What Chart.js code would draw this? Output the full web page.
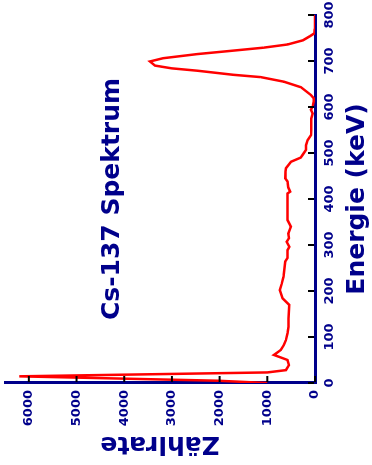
<!DOCTYPE html>
<html>
<head>
<meta charset="utf-8">
<script src="https://cdn.jsdelivr.net/npm/chart.js@4.4.1/dist/chart.umd.min.js"></script>
<style>
  html, body { margin: 0; padding: 0; background: #fff; overflow: hidden; }
  #wrap {
    position: absolute; left: 0; top: 0;
    width: 465px; height: 372px;
    transform-origin: 0 0;
    transform: translateY(465px) rotate(-90deg);
  }
</style>
</head>
<body>
<div id="wrap"><canvas id="spektrum" width="465" height="372"></canvas></div>
<script>
// Cs-137 Gammaspektrum
const energie = [0, 5, 14.5, 23, 28, 39, 50, 61, 72, 83, 93, 108, 122, 140, 160, 170, 184, 202, 215, 231,
  250, 264, 272, 289, 296, 307, 315, 325, 340, 354, 380, 400, 412, 416, 425, 438, 445, 460, 467, 481,
  490, 496, 507, 517, 528, 539, 550, 575, 586, 594, 601, 612, 619, 626, 643, 655, 665, 670, 679, 684,
  690, 699, 706, 715, 722, 729, 736, 745, 754, 760, 770, 800];
const zaehlrate = [1000, 2050, 6200, 1000, 610, 545, 575, 860, 715, 650, 610, 575, 555, 555, 545, 542, 680, 740, 700, 660,
  640, 625, 575, 575, 540, 595, 545, 560, 505, 575, 575, 575, 575, 520, 560, 575, 625, 620, 610, 505,
  300, 260, 190, 190, 155, 85, 80, 80, 50, 85, 50, 27, 27, 85, 295, 650, 1140, 1710, 2475, 3000,
  3355, 3460, 3190, 2470, 1770, 1075, 570, 253, 105, 15, 5, 0];

const xTicks = [0, 100, 200, 300, 400, 500, 600, 700, 800];
const yTicks = [0, 1000, 2000, 3000, 4000, 5000, 6000];

const titel = 'Cs-137 Spektrum';
const xTitel = 'Energie (keV)';
const yTitel = 'Zählrate';

const navy = '#00008b';
const fontFam = '"DejaVu Sans", sans-serif';

// kleine Striche nach innen + Titel im Diagramm
const innenStriche = {
  id: 'innenStriche',
  afterDraw(chart) {
    const { ctx, chartArea, scales } = chart;
    ctx.save();
    ctx.strokeStyle = '#000';
    ctx.lineWidth = 2;
    scales.x.ticks.forEach((t, i) => {
      const px = scales.x.getPixelForTick(i);
      ctx.beginPath();
      ctx.moveTo(px, chartArea.bottom - 1);
      ctx.lineTo(px, chartArea.bottom - 7);
      ctx.stroke();
    });
    scales.y.ticks.forEach((t, i) => {
      const py = scales.y.getPixelForTick(i);
      ctx.beginPath();
      ctx.moveTo(chartArea.left + 1, py);
      ctx.lineTo(chartArea.left + 7, py);
      ctx.stroke();
    });
    ctx.fillStyle = navy;
    ctx.font = 'bold 25px ' + fontFam;
    ctx.textAlign = 'center';
    ctx.textBaseline = 'alphabetic';
    ctx.fillText(titel, (chartArea.left + chartArea.right) / 2, chartArea.top + 114);
    ctx.restore();
  }
};

const tickFont = { family: fontFam, size: 13, weight: 'bold' };

const ctx = document.getElementById('spektrum').getContext('2d');
new Chart(ctx, {
  type: 'line',
  data: {
    datasets: [{
      data: energie.map((e, i) => ({ x: e, y: zaehlrate[i] })),
      borderColor: '#ff0000',
      borderWidth: 2.5,
      pointRadius: 0,
      tension: 0,
      fill: false
    }]
  },
  options: {
    responsive: false,
    animation: false,
    layout: { padding: { top: 5, right: 15, left: 0, bottom: 0 } },
    plugins: {
      legend: { display: false },
      tooltip: { enabled: false }
    },
    scales: {
      x: {
        type: 'linear',
        z: 1,
        min: 0,
        max: 800,
        afterBuildTicks(scale) { scale.ticks = xTicks.map(v => ({ value: v })); },
        afterFit(scale) {
          scale.height = 57;
          scale.paddingLeft = 0;
          scale.paddingRight = 0;
        },
        ticks: {
          color: navy,
          padding: 7,
          maxRotation: 0,
          autoSkip: false,
          font: tickFont,
          callback: v => String(v)
        },
        grid: { display: true, drawOnChartArea: false, drawTicks: false },
        border: { display: true, color: navy, width: 3 },
        title: {
          display: true,
          text: xTitel,
          color: navy,
          padding: { top: 0, bottom: 0 },
          font: { family: fontFam, size: 25, weight: 'bold' }
        }
      },
      y: {
        z: 1,
        min: 0,
        max: 6500,
        afterBuildTicks(scale) { scale.ticks = yTicks.map(v => ({ value: v })); },
        afterFit(scale) {
          scale.width = 82;
          scale.paddingTop = 0;
          scale.paddingBottom = 0;
        },
        ticks: {
          color: navy,
          padding: 7,
          autoSkip: false,
          font: tickFont,
          callback: v => String(v)
        },
        grid: { display: true, drawOnChartArea: false, drawTicks: false },
        border: { display: true, color: navy, width: 3 },
        title: {
          display: true,
          text: yTitel,
          color: navy,
          padding: { top: 6, bottom: 0 },
          font: { family: fontFam, size: 25, weight: 'bold' }
        }
      }
    }
  },
  plugins: [innenStriche]
});
</script>
</body>
</html>
